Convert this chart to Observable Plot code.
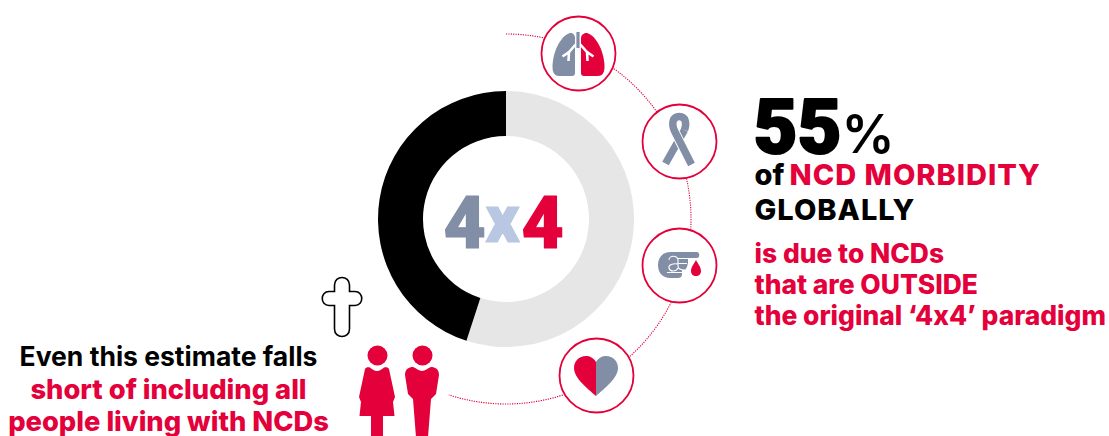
<!DOCTYPE html>
<html>
<head>
<meta charset="utf-8">
<script src="https://cdn.jsdelivr.net/npm/d3@7"></script>
<script src="https://cdn.jsdelivr.net/npm/@observablehq/plot@0.6"></script>
<style>
  html, body { margin: 0; padding: 0; background: #fff; }
  svg { display: block; }
  /* keep the literal letter x in 4x4 rather than a multiplication sign */
  .run text { font-feature-settings: "calt" 0, "liga" 0; }
  .spaced text { letter-spacing: 1px; font-feature-settings: "calt" 0; }
</style>
</head>
<body>
<div id="chart"></div>
<script>
// NCD morbidity share
const sliceNames = ["Outside the 4x4 paradigm", "Within the 4x4 paradigm"];
const sliceShares = [55, 45];

// Text lines
const headline = "55";
const headlineUnit = "%";
const ofWord = "of";
const redHead = "NCD MORBIDITY";
const blackHead = "GLOBALLY";
const redLines = ["is due to NCDs", "that are OUTSIDE", "the original ‘4x4’ paradigm"];
const noteBlack = "Even this estimate falls";
const noteRed = ["short of including all", "people living with NCDs"];
const centreParts = ["4", "x", "4"];
const iconNames = ["lungs", "ribbon", "blood", "heart"];

const RED = "#e4003a", SLATE = "#818ea5", PALE = "#b9c7e2", RING = "#e6e6e6", INK = "#000";
const cx = 506, cy = 219;
const SANS = "Inter, 'Liberation Sans', sans-serif";

// Ring slices and the dotted guide, laid out with d3's arc generator.
const pie = d3.pie().sort(null).value((d) => d.share);
const slices = pie(sliceNames.map((name, i) => ({name, share: sliceShares[i]})));
const ringColors = [RING, INK];

const ring = Plot.dot(slices, {
  x: () => cx, y: () => cy,
  render(index, scales, values) {
    const arc = d3.arc().innerRadius(83).outerRadius(128);
    const g = d3.create("svg:g");
    for (const i of index) {
      g.append("path")
        .attr("transform", `translate(${values.x[i]},${values.y[i]})`)
        .attr("d", arc(slices[i]))
        .attr("fill", ringColors[i]);
    }
    return g.node();
  }
});

const guide = Plot.dot([slices[0]], {
  x: () => cx, y: () => cy,
  render(index, scales, values) {
    const d = d3.arc().innerRadius(185).outerRadius(185)({startAngle: 0, endAngle: slices[0].endAngle});
    const g = d3.create("svg:g");
    g.append("path")
      .attr("transform", `translate(${values.x[0]},${values.y[0]})`)
      .attr("d", d.split("L")[0])
      .attr("fill", "none")
      .attr("stroke", RED)
      .attr("stroke-width", 1.1)
      .attr("stroke-dasharray", "1 1.4");
    return g.node();
  }
});

// Pictogram outlines, in local coordinates around each anchor.
const LEFT_LUNG = "M-3,20C-3,22 -4,23 -6,23L-19,23C-23,23 -25.5,20 -25.5,14C-25.5,0 -18,-17 -8,-20C-5,-20.5 -3,-18 -3,-15Z";
const RIGHT_LUNG = "M3,20C3,22 4,23 6,23L20,23C24,23 26.5,20 26.5,14C26.5,0 19,-17 9,-20C6,-20.5 3,-18 3,-15Z";
const TRACHEA = "M-1.6,-21H1.6V-6L1.6,-5H-1.6V-6Z";
const BRONCHI = "M-1,-10L-9,-1L-15.5,3.5M-9,-2L-9.5,8M1,-10L9,-1L15.5,3.5M9,-2L9.5,8";
const RIBBON_TAIL = "M5.5,-11L-13.5,22.5";
const RIBBON_HALO = "M-3.5,-8L6,11";
const RIBBON_LOOP = "M12.5,23.5L-4.5,-10C-8,-18 -6,-24.5 0.3,-24.5C6.5,-24.5 8,-18 5.5,-11";
const HAND = "M-8,-13L18,-13C21,-13 21,-7 18,-7L9,-7L9,-2L8,2L6,5L3,5L3,9C3,12 1,13 -1,13L-9,13C-16,13 -21,8 -21,0C-21,-8 -16,-13 -8,-13Z";
const HAND_LINES = "M-10,-5C-10,-10 -1,-10 -1,-5L-1,1C-1,4 2,5 6,5M-1,-1C-6,-2 -11,0 -10,3C-9,7 -3,7 -1,3M-1,-6.5L9,-6.5M-1,-1.5L8,-1.5M-12,7.5L3,7.5";
const DROP = "M17,-5C15,-1 12,2 12,6C12,9 14,11 17,11C20,11 22,9 22,6C22,2 19,-1 17,-5Z";
const HEART_LEFT = "M0,-13C-3,-18 -7,-19 -10,-19C-17,-19 -22,-14 -22,-7C-22,3 -9,13 0,21Z";
const HEART_RIGHT = "M0,-13C3,-18 7,-19 10,-19C17,-19 22,-14 22,-7C22,3 9,13 0,21Z";
const CROSS = "M-7.5,-8.5L-7.5,-15C-7.5,-25 7.5,-25 7.5,-15L7.5,-8.5L13,-8.5C22,-8.5 22,5.5 13,5.5L7.5,5.5L7.5,29C7.5,39 -7.5,39 -7.5,29L-7.5,5.5L-13,5.5C-22,5.5 -22,-8.5 -13,-8.5Z";
const WOMAN = "M0,16C-3,16 -5,14 -7,12.5C-9,12 -11,12 -12,14L-18,42L-16,47L-16,47L-17.5,61L-6,61L-6,82L6,82L6,61L17.5,61L16,47L18,42L12,14C11,12 9,12 7,12.5C5,14 3,16 0,16Z";
const MAN = "M0,16C-3,16 -6,13 -9,12C-13,12 -17,14 -17,20L-14,39L-9,44L-6,82L6,82L9,44L14,39L17,20C17,14 13,12 9,12C6,13 3,16 0,16Z";

// Draws a local-coordinate path at each anchor through the position scales.
function glyph(anchor, d, paint) {
  return Plot.dot([anchor], {
    x: (a) => a[0], y: (a) => a[1],
    render(index, scales, values) {
      const p = d3.create("svg:path")
        .attr("transform", `translate(${values.x[0]},${values.y[0]})`)
        .attr("d", d);
      for (const [k, v] of Object.entries(paint)) p.attr(k, v);
      return p.node();
    }
  });
}

const badgeAt = [[578, 53], [679, 141], [679, 265], [596, 375]];
const badges = Plot.dot(iconNames.map((name, i) => ({name, at: badgeAt[i]})), {
  x: (d) => d.at[0], y: (d) => d.at[1],
  r: 37, fill: "#fff", stroke: RED, strokeWidth: 1.8
});

const lungsAt = badgeAt[0], ribbonAt = badgeAt[1], bloodAt = badgeAt[2], heartAt = badgeAt[3];
const pictograms = [
  glyph(lungsAt, LEFT_LUNG, {fill: SLATE}),
  glyph(lungsAt, RIGHT_LUNG, {fill: RED}),
  glyph(lungsAt, BRONCHI, {fill: "none", stroke: "#fff", "stroke-width": 2.6}),
  glyph(lungsAt, TRACHEA, {fill: SLATE}),
  glyph(ribbonAt, RIBBON_TAIL, {fill: "none", stroke: SLATE, "stroke-width": 7.5}),
  glyph(ribbonAt, RIBBON_HALO, {fill: "none", stroke: "#fff", "stroke-width": 9.5}),
  glyph(ribbonAt, RIBBON_LOOP, {fill: "none", stroke: SLATE, "stroke-width": 7.5}),
  glyph(bloodAt, HAND, {fill: SLATE}),
  glyph(bloodAt, HAND_LINES, {fill: "none", stroke: "#fff", "stroke-width": 1.1}),
  glyph(bloodAt, DROP, {fill: RED}),
  glyph(heartAt, HEART_LEFT, {fill: RED}),
  glyph(heartAt, HEART_RIGHT, {fill: SLATE}),
  glyph([342, 300], CROSS, {fill: "#fff", stroke: INK, "stroke-width": 1.6}),
  glyph([377, 355], WOMAN, {fill: RED}),
  glyph([422, 355], MAN, {fill: RED})
];
const heads = Plot.dot([[377, 355], [422, 355]], {x: "0", y: "1", r: 10, fill: RED});

// One text run, given by its baseline.
function run(text, x, baseline, size, fill, opts = {}) {
  return Plot.text([text], {
    x: () => x, y: () => baseline - 0.32 * size, text: (d) => d,
    fontSize: size, fill, fontWeight: 800, fontFamily: SANS,
    textAnchor: "start", lineAnchor: "middle", className: "run", ...opts
  });
}

const heavy = {fontFamily: "Roboto", fontWeight: 900, strokeWidth: 1.2};
const texts = [
  run(centreParts[0], 443, 247, 73, SLATE, {...heavy, stroke: SLATE}),
  run(centreParts[1], 485, 241, 66, PALE, {...heavy, stroke: PALE}),
  run(centreParts[2], 521, 247, 73, RED, {...heavy, stroke: RED}),
  run(headline, 753, 152, 76, INK, {...heavy, stroke: INK, strokeWidth: 2}),
  run(headlineUnit, 841, 152, 53, INK, {fontWeight: 600}),
  run(ofWord, 754, 184, 29, INK),
  run(redHead, 789, 184, 29, RED, {className: "spaced"}),
  run(blackHead, 754, 219, 29, INK, {className: "spaced"}),
  ...redLines.map((t, i) => run(t, 754, [262, 293, 324][i], 26.4, RED)),
  run(noteBlack, 168, 365, 26.5, INK, {textAnchor: "middle", fontWeight: 700}),
  ...noteRed.map((t, i) => run(t, 168, [398, 430][i], 27.3, RED, {textAnchor: "middle"}))
];

const chart = Plot.plot({
  width: 1109, height: 436,
  margin: 0,
  x: {domain: [0, 1109], range: [0, 1109], axis: null},
  y: {domain: [0, 436], range: [0, 436], axis: null},
  style: {background: "#fff"},
  marks: [ring, guide, badges, ...pictograms, heads, ...texts]
});
document.getElementById("chart").append(chart);
</script>
</body>
</html>
